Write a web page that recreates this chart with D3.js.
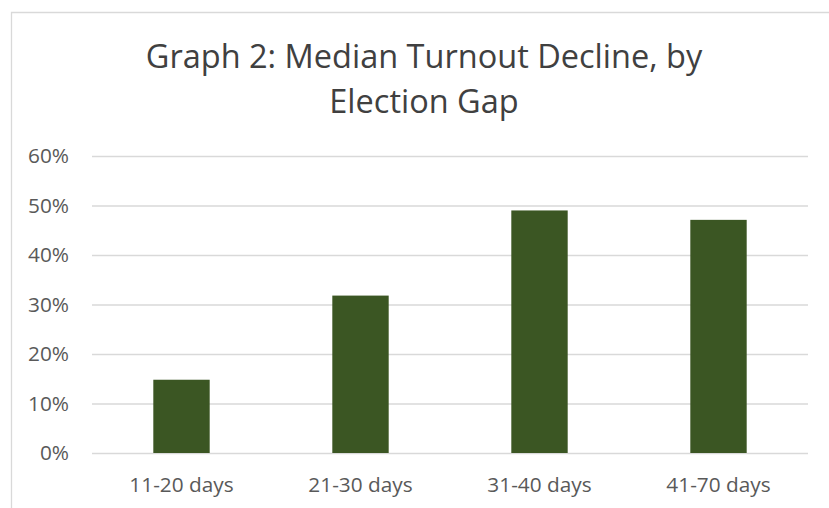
<!DOCTYPE html>
<html>
<head>
<meta charset="utf-8">
<script src="https://cdn.jsdelivr.net/npm/d3@7"></script>
<style>
  body { margin: 0; background: #fff; }
  text { font-family: "Open Sans", sans-serif; }
</style>
</head>
<body>
<div class="bar-chart"></div>
<script>
// data
const categories = ["11-20 days", "21-30 days", "31-40 days", "41-70 days"];
const turnoutDecline = [0.148, 0.318, 0.49, 0.471];
const yTicks = [0, 0.1, 0.2, 0.3, 0.4, 0.5, 0.6];
const titleLines = ["Graph 2: Median Turnout Decline, by", "Election Gap"];

const W = 829, H = 508;
const margin = { top: 156, right: 21, bottom: 55, left: 92 };
const width = W - margin.left - margin.right,
  height = H - margin.top - margin.bottom;

const root = d3
  .select(".bar-chart")
  .append("svg")
  .attr("width", W)
  .attr("height", H);

// chart area frame (only top and left edges are visible in the crop)
root.append("path")
  .attr("d", `M11.5,${H} V12.5 H${W}`)
  .attr("fill", "none")
  .attr("stroke", "#d9d9d9")
  .attr("stroke-width", 1.3);

// title
root.append("text")
  .attr("class", "title")
  .attr("text-anchor", "middle")
  .attr("fill", "#404040")
  .style("font-size", "32.5px")
  .selectAll("tspan")
  .data(titleLines)
  .join("tspan")
  .attr("x", 424)
  .attr("y", (d, i) => 67.5 + i * 45.5)
  .text(d => d);

const svg = root.append("g")
  .attr("transform", "translate(" + margin.left + "," + margin.top + ")");

let xScale = d3.scaleBand()
  .domain(categories)
  .range([0, width])
  .paddingInner(0.685)
  .paddingOuter(0.3425);

let yScale = d3.scaleLinear().domain([0, 0.6]).range([height, 0]);

// y axis + gridlines
const yAxis = d3.axisLeft(yScale)
  .tickValues(yTicks)
  .tickFormat(d3.format(".0%"))
  .tickSize(-width)
  .tickPadding(23);

svg.append("g")
  .attr("class", "y-axis")
  .call(yAxis)
  .call(g => g.select(".domain").remove())
  .call(g => g.selectAll(".tick line").attr("stroke", "#d9d9d9").attr("stroke-width", 1.3))
  .call(g => g.selectAll(".tick text")
    .attr("fill", "#595959")
    .style("font-size", "20.8px")
    .style("font-family", "Open Sans, sans-serif"));

// bars
svg.selectAll(".bar")
  .data(categories.map((c, i) => ({ cat: c, value: turnoutDecline[i] })))
  .join("rect")
  .attr("class", "bar")
  .attr("x", d => xScale(d.cat))
  .attr("y", d => yScale(d.value))
  .attr("width", xScale.bandwidth())
  .attr("height", d => height - yScale(d.value))
  .attr("fill", "#3b5623");

// x axis labels
const xAxis = d3.axisBottom(xScale).tickSize(0).tickPadding(24.5);
svg.append("g")
  .attr("class", "x-axis")
  .attr("transform", `translate(0, ${height})`)
  .call(xAxis)
  .call(g => g.select(".domain").remove())
  .call(g => g.selectAll(".tick text")
    .attr("fill", "#595959")
    .style("font-size", "20.8px")
    .style("font-family", "Open Sans, sans-serif"));
</script>
</body>
</html>
